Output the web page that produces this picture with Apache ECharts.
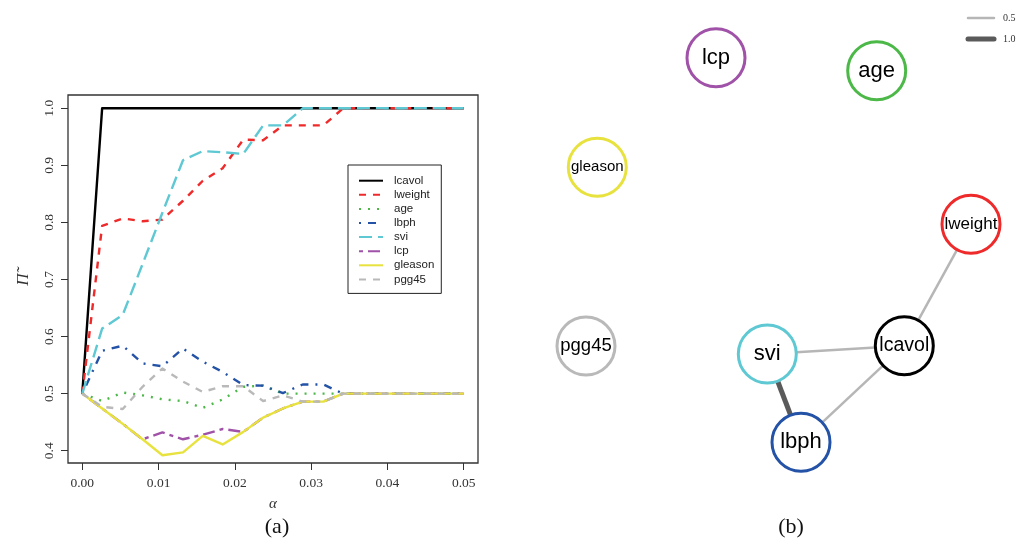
<!DOCTYPE html>
<html>
<head>
<meta charset="utf-8">
<script src="https://cdn.jsdelivr.net/npm/echarts@6/dist/echarts.min.js"></script>
<style>html,body{margin:0;padding:0;background:#fff}#c{width:1024px;height:544px}</style>
</head>
<body>
<div id="c"></div>
<script>
// ---------- Panel (a) data ----------
const alpha = [0.0000, 0.0026, 0.0053, 0.0079, 0.0105, 0.0132, 0.0158, 0.0184, 0.0211, 0.0237,
               0.0263, 0.0289, 0.0316, 0.0342, 0.0368, 0.0395, 0.0421, 0.0447, 0.0474, 0.0500];
const lcavol  = [0.500, 1.000, 1.000, 1.000, 1.000, 1.000, 1.000, 1.000, 1.000, 1.000, 1.000, 1.000, 1.000, 1.000, 1.000, 1.000, 1.000, 1.000, 1.000, 1.000];
const lweight = [0.500, 0.794, 0.807, 0.802, 0.805, 0.838, 0.873, 0.895, 0.945, 0.944, 0.970, 0.970, 0.970, 1.000, 1.000, 1.000, 1.000, 1.000, 1.000, 1.000];
const age     = [0.500, 0.487, 0.502, 0.497, 0.490, 0.487, 0.475, 0.490, 0.512, 0.514, 0.500, 0.500, 0.500, 0.500, 0.500, 0.500, 0.500, 0.500, 0.500, 0.500];
const lbph    = [0.500, 0.575, 0.584, 0.553, 0.548, 0.579, 0.556, 0.538, 0.515, 0.514, 0.501, 0.516, 0.516, 0.500, 0.500, 0.500, 0.500, 0.500, 0.500, 0.500];
const svi     = [0.500, 0.614, 0.638, 0.727, 0.817, 0.909, 0.925, 0.923, 0.920, 0.970, 0.970, 1.000, 1.000, 1.000, 1.000, 1.000, 1.000, 1.000, 1.000, 1.000];
const lcp     = [0.500, 0.474, 0.447, 0.420, 0.432, 0.420, 0.428, 0.438, 0.433, 0.458, 0.474, 0.486, 0.486, 0.500, 0.500, 0.500, 0.500, 0.500, 0.500, 0.500];
const gleason = [0.500, 0.474, 0.447, 0.420, 0.392, 0.397, 0.426, 0.411, 0.433, 0.458, 0.474, 0.486, 0.486, 0.500, 0.500, 0.500, 0.500, 0.500, 0.500, 0.500];
const pgg45   = [0.500, 0.477, 0.473, 0.512, 0.544, 0.521, 0.503, 0.513, 0.513, 0.487, 0.497, 0.486, 0.486, 0.500, 0.500, 0.500, 0.500, 0.500, 0.500, 0.500];
const seriesNames = ['lcavol', 'lweight', 'age', 'lbph', 'svi', 'lcp', 'gleason', 'pgg45'];
const seriesValues = [lcavol, lweight, age, lbph, svi, lcp, gleason, pgg45];

// ---------- Panel (b) data ----------
const nodeNames = ['lcp', 'age', 'gleason', 'lweight', 'pgg45', 'svi', 'lcavol', 'lbph'];
const nodeX     = [176.0, 336.7, 57.3, 431.0, 46.0, 227.3, 364.3, 261.0];
const nodeY     = [37.7, 50.7, 147.3, 204.3, 326.0, 334.0, 325.7, 422.3];
const edgeFrom  = ['lweight', 'svi', 'lcavol', 'svi'];
const edgeTo    = ['lcavol', 'lcavol', 'lbph', 'lbph'];
const edgeWeight = [0.5, 0.5, 0.5, 1.0];
const edgeLegendWeights = [0.5, 1.0];

// ---------- Styles ----------
const colors = {
  lcavol: '#000000', lweight: '#ee2a2a', age: '#4cb848', lbph: '#2352a6',
  svi: '#5ec8d3', lcp: '#a052a8', gleason: '#e8e23e', pgg45: '#b9b9b9'
};
const dashes = {
  lcavol: 'solid', lweight: [7, 7], age: [2, 7], lbph: [2, 7, 8, 7],
  svi: [13, 6], lcp: [4, 5, 12, 5], gleason: 'solid', pgg45: [7, 7]
};
const nodeFont = { lcp: 22, age: 22, gleason: 15, lweight: 17, pgg45: 18.5, svi: 22, lcavol: 19.5, lbph: 22 };
const edgeWidth = w => 5 * w;
const edgeColor = w => (w >= 1 ? '#5a5a5a' : '#b6b6b6');
const serif = '"Liberation Serif", "DejaVu Serif", serif';
const sans = '"Liberation Sans", Arial, sans-serif';

const chart = echarts.init(document.getElementById('c'), null, { renderer: 'canvas' });

const lineSeries = seriesNames.map((n, i) => ({
  name: n, type: 'line', xAxisIndex: 0, yAxisIndex: 0,
  data: alpha.map((a, k) => [a, seriesValues[i][k]]),
  showSymbol: false, symbol: 'circle', clip: false,
  lineStyle: { color: colors[n], width: 2.4, type: dashes[n], cap: 'butt', join: 'round' },
  itemStyle: { color: colors[n] },
  animation: false, z: 2 + i * 0.01
}));

const graphSeries = {
  type: 'graph', coordinateSystem: 'cartesian2d', xAxisIndex: 1, yAxisIndex: 1,
  layout: 'none', animation: false, z: 5,
  symbol: 'circle', symbolSize: 58,
  data: nodeNames.map((n, i) => ({
    name: n, value: [nodeX[i], nodeY[i]],
    itemStyle: { color: '#ffffff', borderColor: colors[n], borderWidth: 3 },
    label: { show: true, position: 'inside', formatter: n, color: '#000', fontFamily: sans, fontSize: nodeFont[n] }
  })),
  links: edgeFrom.map((s, i) => ({
    source: s, target: edgeTo[i],
    lineStyle: { width: edgeWidth(edgeWeight[i]), color: edgeColor(edgeWeight[i]), opacity: 1, curveness: 0 }
  })),
  emphasis: { disabled: true }
};

const legendGraphics = [];
edgeLegendWeights.forEach((w, i) => {
  const y = 18 + i * 21;
  legendGraphics.push({ type: 'line', shape: { x1: 968, y1: y, x2: 994, y2: y },
    style: { stroke: edgeColor(w), lineWidth: edgeWidth(w), lineCap: 'round' } });
  legendGraphics.push({ type: 'text', x: 1003, y: y,
    style: { text: w.toFixed(1), font: '10px ' + serif, fill: '#333', textVerticalAlign: 'middle' } });
});

chart.setOption({
  backgroundColor: '#ffffff',
  animation: false,
  grid: [
    { left: 82.3, top: 108.3, width: 381.4, height: 342.4 },
    { left: 540, top: 20, width: 460, height: 460 }
  ],
  xAxis: [
    { type: 'value', gridIndex: 0, min: 0, max: 0.05, interval: 0.01, offset: 12.3,
      axisLine: { show: false, onZero: false }, splitLine: { show: false },
      axisTick: { show: true, inside: false, length: 7, lineStyle: { color: '#333', width: 1 } },
      axisLabel: { margin: 13, color: '#333', fontFamily: serif, fontSize: 13.5, formatter: v => v.toFixed(2) },
      name: 'α', nameLocation: 'middle', nameGap: 34,
      nameTextStyle: { fontFamily: serif, fontStyle: 'italic', fontSize: 15, color: '#333' } },
    { type: 'value', gridIndex: 1, min: 0, max: 460, show: false }
  ],
  yAxis: [
    { type: 'value', gridIndex: 0, min: 0.4, max: 1.0, interval: 0.1, offset: 14.3,
      axisLine: { show: false, onZero: false }, splitLine: { show: false },
      axisTick: { show: true, inside: false, length: 7, lineStyle: { color: '#333', width: 1 } },
      axisLabel: { rotate: 90, margin: 12, color: '#333', fontFamily: serif, fontSize: 13.5, formatter: v => v.toFixed(1) },
      name: 'Π̃', nameLocation: 'middle', nameGap: 36, nameRotate: 90,
      nameTextStyle: { fontFamily: serif, fontStyle: 'italic', fontSize: 17, color: '#333' } },
    { type: 'value', gridIndex: 1, min: 0, max: 460, inverse: true, show: false }
  ],
  legend: {
    data: seriesNames, orient: 'vertical', left: 348, top: 165,
    padding: [9.7, 7, 8, 10], itemGap: 2.1, itemWidth: 24, itemHeight: 12,
    borderColor: '#222', borderWidth: 1, backgroundColor: '#fff',
    itemStyle: { opacity: 0, borderWidth: 0 },
    textStyle: { fontFamily: sans, fontSize: 11.5, lineHeight: 12, color: '#222', padding: [0, 0, 0, 6] },
    selectedMode: false
  },
  series: [...lineSeries, graphSeries],
  graphic: [
    { type: 'rect', shape: { x: 68, y: 95, width: 410, height: 368 }, style: { fill: 'none', stroke: '#333', lineWidth: 1.3 }, z: 10 },
    { type: 'text', x: 277, y: 527, style: { text: '(a)', font: '22px ' + serif, fill: '#111', textAlign: 'center', textVerticalAlign: 'middle' } },
    { type: 'text', x: 791, y: 527, style: { text: '(b)', font: '22px ' + serif, fill: '#111', textAlign: 'center', textVerticalAlign: 'middle' } },
    ...legendGraphics
  ]
});
</script>
</body>
</html>
